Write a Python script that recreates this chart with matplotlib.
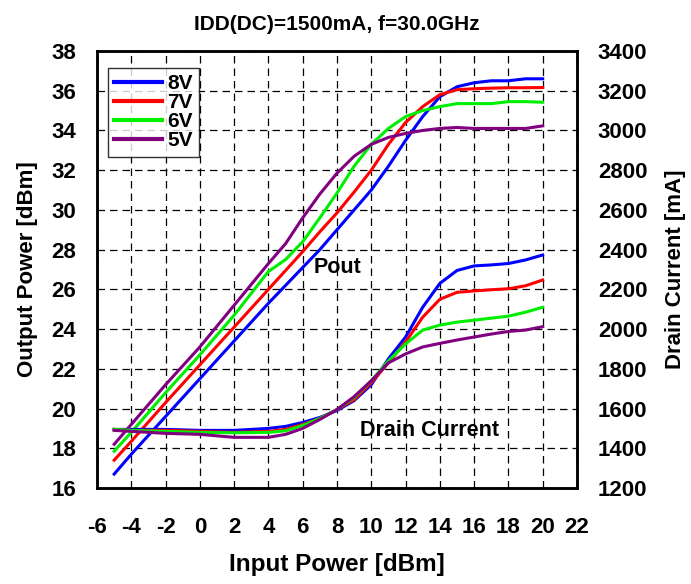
import matplotlib
matplotlib.use("Agg")
import matplotlib.pyplot as plt
import numpy as np

plt.rcParams['font.family'] = ['Liberation Sans', 'DejaVu Sans']
plt.rcParams['font.weight'] = 'bold'
plt.rcParams['axes.unicode_minus'] = False

pin = [-5, -4, -2, 0, 2, 4, 5, 6, 7, 8, 9, 10, 11, 12, 13, 14, 15, 16, 17, 18, 19, 20]

pout_8v = [16.7, 17.7, 19.6, 21.5, 23.4, 25.3, 26.2, 27.1, 28.0, 29.0, 30.0, 31.0, 32.2, 33.5, 34.7, 35.7, 36.2, 36.4, 36.5, 36.5, 36.6, 36.6]
pout_7v = [17.4, 18.35, 20.3, 22.2, 24.1, 26.0, 26.95, 27.9, 28.9, 29.85, 30.9, 32.0, 33.3, 34.4, 35.2, 35.8, 36.05, 36.1, 36.13, 36.15, 36.15, 36.16]
pout_6v = [17.85, 18.8, 20.8, 22.7, 24.7, 26.9, 27.5, 28.4, 29.6, 30.85, 32.2, 33.3, 34.1, 34.7, 35.0, 35.2, 35.35, 35.35, 35.35, 35.45, 35.45, 35.42]
pout_5v = [18.2, 19.2, 21.2, 23.1, 25.2, 27.3, 28.3, 29.6, 30.8, 31.85, 32.7, 33.3, 33.65, 33.85, 34.0, 34.1, 34.15, 34.1, 34.1, 34.1, 34.1, 34.23]

id_8v = [1495, 1495, 1495, 1490, 1490, 1500, 1510, 1530, 1555, 1590, 1640, 1720, 1850, 1960, 2110, 2230, 2295, 2318, 2323, 2330, 2348, 2373]
id_7v = [1495, 1490, 1490, 1485, 1480, 1485, 1495, 1520, 1550, 1595, 1645, 1730, 1830, 1935, 2060, 2150, 2185, 2192, 2198, 2203, 2218, 2247]
id_6v = [1495, 1490, 1485, 1480, 1478, 1480, 1488, 1515, 1550, 1595, 1655, 1740, 1840, 1925, 1995, 2020, 2035, 2045, 2055, 2065, 2085, 2110]
id_5v = [1490, 1485, 1475, 1470, 1455, 1455, 1470, 1500, 1545, 1595, 1660, 1740, 1830, 1875, 1910, 1928, 1945, 1960, 1975, 1988, 1995, 2012]

labels = ['8V', '7V', '6V', '5V']
colors = ['#0000ff', '#ff0000', '#00ee00', '#800080']

fig = plt.figure(figsize=(6.91, 5.84), dpi=100)
ax = fig.add_axes([0.1404, 0.1644, 0.6946, 0.7483])
ax2 = ax.twinx()

pouts = [pout_8v, pout_7v, pout_6v, pout_5v]
ids = [id_8v, id_7v, id_6v, id_5v]
for p, c, lab in zip(pouts, colors, labels):
    ax.plot(pin, p, color=c, lw=2.2, label=lab, zorder=3)
for d, c in zip(ids, colors):
    ax2.plot(pin, d, color=c, lw=2.2, zorder=3)

ax.set_xlim(-6, 22)
ax.set_ylim(16, 38)
ax2.set_ylim(1200, 3400)
ax.set_xticks(np.arange(-6, 23, 2))
ax.set_yticks(np.arange(16, 39, 2))
ax2.set_yticks(np.arange(1200, 3401, 200))

ax.grid(True, color='black', linestyle=(0, (6, 4)), linewidth=0.9)
ax.tick_params(axis='both', length=0, labelsize=16, pad=0)
ax.tick_params(axis='x', pad=21)
ax.tick_params(axis='y', pad=15)
ax2.tick_params(axis='y', length=0, labelsize=16, pad=15)
for a in (ax, ax2):
    for s in a.spines.values():
        s.set_linewidth(1.8)

ax.set_xlabel('Input Power [dBm]', fontsize=17.5, fontweight='bold', labelpad=11)
ax.set_ylabel('Output Power [dBm]', fontsize=16, fontweight='bold', labelpad=10)
ax2.set_ylabel('Drain Current [mA]', fontsize=16, fontweight='bold', labelpad=13)
ax.set_title('IDD(DC)=1500mA, f=30.0GHz', fontsize=15, fontweight='bold', pad=15)

ax.text(8.0, 27.1, 'Pout', fontsize=15.5, fontweight='bold', ha='center', va='center')
ax2.text(13.4, 1490, 'Drain Current', fontsize=15.5, fontweight='bold', ha='center', va='center')

leg = ax.legend(loc='upper left', bbox_to_anchor=(0.023, 0.961), fontsize=15,
                frameon=True, fancybox=False, edgecolor='black', handlelength=2.3,
                handletextpad=0.25, labelspacing=0.0, borderpad=0.3, borderaxespad=0)
leg.get_frame().set_linewidth(1.0)
for line in leg.get_lines():
    line.set_linewidth(3)

fig.savefig('out.png', dpi=100)
